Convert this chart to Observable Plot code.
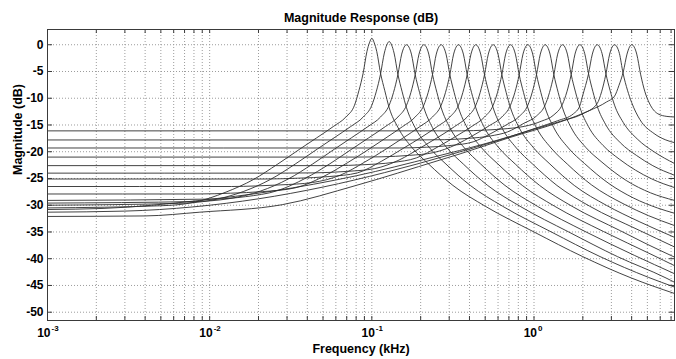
<!DOCTYPE html>
<html><head><meta charset="utf-8">
<script src="https://cdn.jsdelivr.net/npm/d3@7"></script>
<script src="https://cdn.jsdelivr.net/npm/@observablehq/plot@0.6"></script>
<style>body{margin:0;background:#fff}svg{display:block}</style>
</head><body><div id="chart"></div>
<script>
// Each curve: [frequency (kHz), magnitude (dB)]
const c00 = [[0.001,-30.5],[0.005,-30.1],[0.0079,-29.5],[0.0126,-27.55],[0.0186,-25.2],[0.0263,-22.3],[0.036,-19.5],[0.0457,-17.4],[0.0578,-15.3],[0.0692,-13.5],[0.0782,-11.3],[0.0832,-8.6],[0.0884,-5.3],[0.0933,-1.25],[0.0966,0.35],[0.1,1.2],[0.1035,0.35],[0.1072,-1.25],[0.1131,-5.3],[0.1202,-8.6],[0.128,-11.8],[0.1445,-15.4],[0.1778,-19.3],[0.2239,-22.3],[0.3162,-26.3],[0.5012,-30.2],[1.0,-35],[1.995,-39.6],[3.98,-43.6],[7.35,-46.5]];
const c01 = [[0.001,-30.0],[0.00641,-29.65],[0.01016,-29.1],[0.0161,-27.45],[0.0238,-25.15],[0.0337,-22.3],[0.0461,-19.5],[0.0585,-17.4],[0.074,-15.3],[0.0885,-13.5],[0.1,-11.3],[0.1064,-8.8],[0.1131,-5.5],[0.1194,-1.55],[0.1236,-0.05],[0.1279,0.6],[0.1324,-0.05],[0.1371,-1.55],[0.1447,-5.5],[0.1538,-8.8],[0.1637,-11.8],[0.1849,-15.5],[0.2275,-19.3],[0.2864,-22.3],[0.4046,-26.3],[0.6412,-30.2],[1.279,-35],[2.553,-39.6],[5.093,-43.5],[7.35,-45.3]];
const c02 = [[0.001,-29.6],[0.0082,-29.3],[0.013,-28.8],[0.0206,-27.35],[0.0305,-25.1],[0.0431,-22.3],[0.0589,-19.5],[0.0748,-17.4],[0.0946,-15.3],[0.1132,-13.5],[0.1279,-11.3],[0.1361,-8.9],[0.1447,-5.6],[0.1528,-1.75],[0.1581,-0.45],[0.1636,0],[0.1694,-0.45],[0.1754,-1.75],[0.1851,-5.6],[0.1968,-8.9],[0.2094,-11.8],[0.2366,-15.5],[0.2911,-19.3],[0.3664,-22.3],[0.5176,-26.3],[0.8204,-30.2],[1.637,-35],[3.266,-39.6],[6.516,-43.6],[7.35,-44.4]];
const c03 = [[0.001,-29.1],[0.0105,-28.85],[0.01663,-28.4],[0.02636,-27.25],[0.039,-24.95],[0.0551,-22.25],[0.0753,-19.5],[0.0957,-17.4],[0.1211,-15.3],[0.1449,-13.5],[0.1637,-11.3],[0.1742,-8.9],[0.1851,-5.6],[0.1954,-1.75],[0.2023,-0.45],[0.2092,0],[0.2168,-0.45],[0.2244,-1.75],[0.2368,-5.6],[0.2518,-8.9],[0.2679,-11.8],[0.3027,-15.5],[0.3724,-19.3],[0.4688,-22.3],[0.6622,-26.3],[1.0495,-30.2],[2.094,-35],[4.178,-39.4],[7.35,-42.8]];
const c04 = [[0.001,-27.9],[0.00846,-27.9],[0.01342,-27.75],[0.02126,-27.45],[0.0337,-26.75],[0.0498,-24.7],[0.0704,-22.1],[0.0963,-19.5],[0.1223,-17.4],[0.1547,-15.3],[0.1851,-13.5],[0.2092,-11.3],[0.2226,-8.9],[0.2366,-5.6],[0.2497,-1.75],[0.2585,-0.45],[0.2676,0],[0.277,-0.45],[0.2868,-1.75],[0.3027,-5.6],[0.3217,-8.9],[0.3423,-11.8],[0.3869,-15.5],[0.476,-19.3],[0.5992,-22.3],[0.8464,-26.3],[1.3415,-30.2],[2.676,-34.9],[5.341,-39.25],[7.35,-41.3]];
const c05 = [[0.001,-26.5],[0.01366,-26.5],[0.01925,-26.4],[0.0272,-26.2],[0.0431,-25.75],[0.0637,-24.4],[0.09,-21.97],[0.1231,-19.45],[0.1564,-17.4],[0.1978,-15.3],[0.2367,-13.5],[0.2676,-11.3],[0.2847,-8.9],[0.3027,-5.6],[0.3194,-1.75],[0.3307,-0.45],[0.3423,0],[0.3543,-0.45],[0.3668,-1.75],[0.3872,-5.6],[0.4116,-8.9],[0.4379,-11.8],[0.4948,-15.5],[0.6086,-19.3],[0.7662,-22.3],[1.0824,-26.3],[1.7158,-30.2],[3.423,-34.8],[4.836,-37.1],[7.35,-39.7]];
const c06 = [[0.001,-25.1],[0.02193,-25.1],[0.0348,-24.95],[0.0551,-24.63],[0.0815,-23.95],[0.1151,-21.75],[0.1575,-19.3],[0.2001,-17.37],[0.2531,-15.3],[0.3029,-13.5],[0.3423,-11.3],[0.3642,-8.9],[0.3871,-5.6],[0.4086,-1.75],[0.4229,-0.45],[0.4378,0],[0.4532,-0.45],[0.4691,-1.75],[0.4952,-5.6],[0.5264,-8.9],[0.5601,-11.8],[0.633,-15.5],[0.7786,-19.3],[0.9802,-22.3],[1.3846,-26.3],[2.1942,-30.15],[4.378,-34.58],[7.35,-37.8]];
const c07 = [[0.001,-24.0],[0.02804,-24.0],[0.04447,-23.95],[0.07048,-23.67],[0.1043,-23.15],[0.1473,-21.55],[0.2014,-19.2],[0.2559,-17.3],[0.3237,-15.3],[0.3874,-13.5],[0.4378,-11.3],[0.4658,-8.9],[0.4952,-5.6],[0.5227,-1.75],[0.541,-0.45],[0.56,0],[0.5797,-0.45],[0.6,-1.75],[0.6334,-5.6],[0.6732,-8.9],[0.7164,-11.8],[0.8096,-15.5],[0.9959,-19.3],[1.2537,-22.3],[1.7709,-26.3],[2.8067,-30.05],[4.4477,-33.06],[7.35,-36.0]];
const c08 = [[0.001,-22.6],[0.0568,-22.6],[0.0902,-22.42],[0.1334,-22.02],[0.1884,-21.15],[0.2577,-19.03],[0.3274,-17.18],[0.4141,-15.25],[0.4955,-13.5],[0.56,-11.3],[0.5957,-8.9],[0.6333,-5.6],[0.6685,-1.75],[0.692,-0.45],[0.7163,0],[0.7415,-0.45],[0.7675,-1.75],[0.8102,-5.6],[0.8612,-8.9],[0.9165,-11.8],[1.0354,-15.5],[1.2738,-19.3],[1.6036,-22.3],[2.2651,-26.21],[3.5906,-29.8],[5.072,-31.94],[7.35,-33.8]];
const c09 = [[0.001,-21.0],[0.0819,-21.0],[0.1153,-20.95],[0.1706,-20.68],[0.241,-20.15],[0.3296,-18.7],[0.4188,-17.0],[0.5297,-15.13],[0.6339,-13.5],[0.7161,-11.3],[0.7621,-8.9],[0.8102,-5.6],[0.8551,-1.75],[0.8851,-0.45],[0.9162,0],[0.9484,-0.45],[0.9817,-1.75],[1.0363,-5.6],[1.1015,-8.9],[1.1722,-11.8],[1.3243,-15.5],[1.6293,-19.3],[2.0512,-22.22],[2.8973,-25.95],[4.0926,-28.63],[5.781,-30.52],[7.35,-31.5]];
const c10 = [[0.001,-19.3],[0.1475,-19.3],[0.2182,-19.15],[0.3083,-18.82],[0.4215,-18.15],[0.5357,-16.68],[0.6776,-14.95],[0.8108,-13.4],[0.9161,-11.3],[0.9748,-8.9],[1.0361,-5.6],[1.0937,-1.75],[1.1321,-0.45],[1.1719,0],[1.2131,-0.45],[1.2557,-1.75],[1.3256,-5.6],[1.4088,-8.9],[1.499,-11.8],[1.6939,-15.48],[2.084,-19.18],[2.6237,-21.95],[3.7062,-25.38],[5.2356,-27.69],[7.35,-29.1]];
const c11 = [[0.001,-17.8],[0.1886,-17.8],[0.2795,-17.75],[0.3942,-17.5],[0.5393,-17.05],[0.6853,-16.3],[0.8666,-14.68],[1.0371,-13.3],[1.1716,-11.25],[1.2466,-8.9],[1.3253,-5.6],[1.399,-1.75],[1.4482,-0.45],[1.499,0],[1.5515,-0.45],[1.606,-1.75],[1.6953,-5.58],[1.8025,-8.85],[1.9174,-11.7],[2.167,-15.31],[2.6659,-18.83],[3.3561,-21.38],[4.2253,-23.45],[5.3188,-25.08],[7.35,-26.7]];
const c12 = [[0.001,-16.1],[0.3573,-16.1],[0.5048,-15.95],[0.6899,-15.67],[0.8763,-15.25],[1.1083,-14.3],[1.3266,-13.1],[1.4987,-11.1],[1.5947,-8.8],[1.695,-5.58],[1.7893,-1.75],[1.8523,-0.45],[1.9174,0],[1.9849,-0.4],[2.0546,-1.65],[2.1688,-5.4],[2.3048,-8.7],[2.4533,-11.5],[2.7714,-14.96],[3.4097,-18.33],[4.2925,-20.71],[5.404,-22.61],[7.35,-24.4]];
const c13 = [[0.001,-31.3],[0.003,-31.1],[0.008,-30.3],[0.02,-28.8],[0.05,-26.6],[0.12,-23.9],[0.3,-20.6],[0.6,-17.9],[1.0,-15.7],[1.4,-14.2],[1.75,-12.9],[1.917,-11.4],[2.0,-9.4],[2.162,-5.6],[2.289,-1.75],[2.37,-0.45],[2.4525,0],[2.538,-0.4],[2.628,-1.65],[2.775,-5.4],[2.949,-8.6],[3.138,-11.3],[3.545,-14.5],[4.361,-17.7],[5.49,-20.0],[7.35,-22.2]];
const c14 = [[0.001,-30.8],[0.0022,-30.6],[0.0087,-29.1],[0.024,-27.4],[0.08,-24.5],[0.24,-21.0],[0.5,-18.5],[1.0,-15.8],[1.46,-14.3],[2.0,-12.9],[2.45,-11.0],[2.61,-8.8],[2.77,-5.6],[2.928,-1.75],[3.03,-0.45],[3.137,0],[3.247,-0.4],[3.36,-1.6],[3.54,-5.3],[3.77,-8.5],[4.0,-10.8],[4.5,-14.0],[5.5,-16.6],[6.5,-17.8],[7.35,-18.3]];
const c15 = [[0.001,-32.1],[0.004,-32.0],[0.0087,-31.3],[0.028,-29.9],[0.08,-26.3],[0.26,-21.6],[0.35,-20.4],[0.7,-17.4],[1.46,-14.4],[2.2,-12.3],[2.8,-10.7],[3.14,-9.6],[3.34,-7.6],[3.556,-5.0],[3.745,-1.75],[3.876,-0.45],[4.0125,0],[4.153,-0.45],[4.3,-1.75],[4.54,-5.5],[4.83,-8.8],[5.14,-10.9],[5.8,-12.9],[6.6,-13.4],[7.35,-13.5]];

const yTicks = [0, -5, -10, -15, -20, -25, -30, -35, -40, -45, -50];
const xMajor = [0.001, 0.01, 0.1, 1];
const xExp = ["-3", "-2", "-1", "0"];
const xGrid = [0.001,0.002,0.003,0.004,0.005,0.006,0.007,0.008,0.009,
  0.01,0.02,0.03,0.04,0.05,0.06,0.07,0.08,0.09,
  0.1,0.2,0.3,0.4,0.5,0.6,0.7,0.8,0.9,
  1,2,3,4,5,6,7];
const xDomain = [0.001, 7.35];
const yDomain = [-51.55, 2.85];

const curves = [c00,c01,c02,c03,c04,c05,c06,c07,c08,c09,c10,c11,c12,c13,c14,c15];
const rows = curves.flatMap((c, i) => c.map(([f, db]) => ({id: i, f, db})));

const W = 676, H = 359, mL = 47, mR = 2, mT = 29, mB = 39;
const pw = W - mL - mR, ph = H - mT - mB;
const font = "'Liberation Sans', Arial, Helvetica, sans-serif";
const gridStyle = {stroke: "#9c9c9c", strokeWidth: 1, strokeDasharray: "1,2"};
const axisColor = "#3a3a3a";

const chart = Plot.plot({
  width: W, height: H,
  marginLeft: mL, marginRight: mR, marginTop: mT, marginBottom: mB,
  style: {fontFamily: font, background: "#fff", color: "#000", overflow: "visible"},
  x: {type: "log", domain: xDomain, axis: null},
  y: {domain: yDomain, axis: null},
  marks: [
    Plot.ruleX(xGrid, gridStyle),
    Plot.ruleY(yTicks, gridStyle),
    Plot.line(rows, {x: "f", y: "db", z: "id", stroke: "#2e2e2e", strokeWidth: 0.9, curve: "monotone-x"}),
    Plot.ruleX(xGrid, {stroke: axisColor, insetTop: ph - 4}),
    Plot.ruleX(xGrid, {stroke: axisColor, insetBottom: ph - 4}),
    Plot.ruleY(yTicks, {stroke: axisColor, insetRight: pw - 5}),
    Plot.ruleY(yTicks, {stroke: axisColor, insetLeft: pw - 5}),
    Plot.frame({stroke: axisColor, strokeWidth: 1}),
    Plot.text(yTicks, {y: d => d, frameAnchor: "left", text: d => String(d), textAnchor: "end", dx: -4, fontWeight: "bold", fontSize: 12}),
    Plot.text(xMajor, {x: d => d, frameAnchor: "bottom", text: () => "10", textAnchor: "end", dx: 3, dy: 16, fontWeight: "bold", fontSize: 12}),
    Plot.text(xMajor, {x: d => d, frameAnchor: "bottom", text: (d, i) => xExp[i], textAnchor: "start", dx: 4, dy: 10, fontWeight: "bold", fontSize: 8}),
    Plot.text(["Magnitude Response (dB)"], {frameAnchor: "top", text: d => d, dy: -16, fontWeight: "bold", fontSize: 12.5}),
    Plot.text(["Frequency (kHz)"], {frameAnchor: "bottom", text: d => d, dy: 32, fontWeight: "bold", fontSize: 12.5}),
    Plot.text(["Magnitude (dB)"], {frameAnchor: "left", text: d => d, rotate: -90, dx: -30, fontWeight: "bold", fontSize: 12.5})
  ]
});
document.getElementById("chart").appendChild(chart);
</script>
</body></html>
